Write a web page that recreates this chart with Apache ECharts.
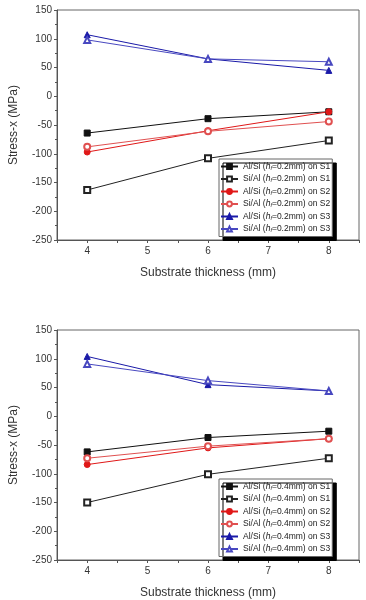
<!DOCTYPE html>
<html>
<head>
<meta charset="utf-8">
<script src="https://cdn.jsdelivr.net/npm/echarts@6/dist/echarts.min.js"></script>
<style>
  html, body { margin: 0; padding: 0; background: #fff; }
  #chart { width: 366px; height: 600px; }
</style>
</head>
<body>
<div id="chart"></div>
<script>
// substrate thickness (mm)
var thickness = [4, 6, 8];
var yTicks = [-250, -200, -150, -100, -50, 0, 50, 100, 150];

// hf = 0.2 mm (upper plot)
var alSiS1_02 = [-64, -39, -27];
var siAlS1_02 = [-163, -108, -77];
var alSiS2_02 = [-97, -60, -27];
var siAlS2_02 = [-88, -61, -44];
var alSiS3_02 = [107, 65, 45];
var siAlS3_02 = [98, 65, 60];

// hf = 0.4 mm (lower plot)
var alSiS1_04 = [-62, -37, -26];
var siAlS1_04 = [-150, -101, -73];
var alSiS2_04 = [-84, -55, -39];
var siAlS2_04 = [-73, -52, -39];
var alSiS3_04 = [104, 55, 44];
var siAlS3_04 = [91, 62, 44];

var font = 'Liberation Sans, Arial, sans-serif';

// 每条曲线的样式
var styles = [
    { pre: 'Al/Si', sub: 'S1', symbol: 'rect', color: '#111' },
    { pre: 'Si/Al', sub: 'S1', symbol: 'emptyRect', color: '#222' },
    { pre: 'Al/Si', sub: 'S2', symbol: 'circle', color: '#e01818' },
    { pre: 'Si/Al', sub: 'S2', symbol: 'emptyCircle', color: '#e05050' },
    { pre: 'Al/Si', sub: 'S3', symbol: 'triangle', color: '#1a1aa8' },
    { pre: 'Si/Al', sub: 'S3', symbol: 'emptyTriangle', color: '#4848c0' }
];

function makeName(st, hf) {
    return st.pre + ' (hf=' + hf + 'mm) on ' + st.sub;
}

function pairs(vals) {
    return thickness.map(function (x, i) { return [x, vals[i]]; });
}

function axisPair(idx) {
    var x = {
        type: 'value', gridIndex: idx, min: 3.5, max: 8.5, interval: 0.5,
        name: 'Substrate thickness (mm)', nameLocation: 'middle', nameGap: 27,
        nameTextStyle: { fontFamily: font, fontSize: 12, color: '#333' },
        axisLine: { onZero: false, lineStyle: { color: '#555' } },
        axisTick: { length: 3, lineStyle: { color: '#555' } },
        axisLabel: {
            fontFamily: font, fontSize: 10, color: '#333', margin: 6,
            formatter: function (v) { return v % 1 === 0 ? String(v) : ''; }
        },
        splitLine: { show: false }
    };
    var y = {
        type: 'value', gridIndex: idx, min: yTicks[0], max: yTicks[yTicks.length - 1], interval: 50,
        name: 'Stress-x (MPa)', nameLocation: 'middle', nameGap: 37,
        nameTextStyle: { fontFamily: font, fontSize: 12, color: '#333' },
        axisLine: { show: true, onZero: false, lineStyle: { color: '#555' } },
        axisTick: { show: true, length: 3, lineStyle: { color: '#555' } },
        minorTick: { show: true, splitNumber: 2, length: 2, lineStyle: { color: '#555' } },
        axisLabel: { fontFamily: font, fontSize: 10, color: '#333', margin: 5 },
        splitLine: { show: false }
    };
    return [x, y];
}

var groups = [
    { hf: '0.2', data: [alSiS1_02, siAlS1_02, alSiS2_02, siAlS2_02, alSiS3_02, siAlS3_02] },
    { hf: '0.4', data: [alSiS1_04, siAlS1_04, alSiS2_04, siAlS2_04, alSiS3_04, siAlS3_04] }
];
var gridTops = [10, 330];

var grids = [], xAxes = [], yAxes = [], series = [], legends = [];
groups.forEach(function (g, gi) {
    grids.push({
        left: 47, top: gridTops[gi], width: 312, height: 230,
        show: true, borderColor: '#666', borderWidth: 1, backgroundColor: '#fff'
    });
    var ax = axisPair(gi);
    xAxes.push(ax[0]);
    yAxes.push(ax[1]);
    var names = [];
    styles.forEach(function (st, si) {
        var nm = makeName(st, g.hf);
        names.push(nm);
        series.push({
            name: nm, type: 'line', xAxisIndex: gi, yAxisIndex: gi,
            data: pairs(g.data[si]),
            symbol: st.symbol, symbolSize: 6,
            lineStyle: { color: st.color, width: 1 },
            itemStyle: { color: st.color, borderColor: st.color, borderWidth: 1 },
            z: 3
        });
    });
    legends.push({
        data: names, orient: 'vertical',
        left: 219, top: gridTops[gi] + 149,
        itemWidth: 17, itemHeight: 6, itemGap: 3.5,
        padding: [3, 2, 3, 1],
        backgroundColor: '#fff', borderColor: '#666', borderWidth: 1,
        shadowColor: '#000', shadowOffsetX: 4, shadowOffsetY: 4, shadowBlur: 0,
        selectedMode: false,
        formatter: function (name) {
            var m = name.match(/^(\S+) \(hf=([\d.]+)mm\) on (S\d)$/);
            return '{n|' + m[1] + ' (}{i|h}{s|f}{n|=' + m[2] + 'mm) on ' + m[3] + '}';
        },
        textStyle: {
            fontFamily: font, fontSize: 8.5, color: '#222',
            rich: {
                n: { fontFamily: font, fontSize: 8.5, color: '#222' },
                i: { fontFamily: font, fontSize: 8.5, fontStyle: 'italic', color: '#222' },
                s: { fontFamily: font, fontSize: 5.5, fontStyle: 'italic', color: '#222', verticalAlign: 'bottom', padding: [3, 0, 0, 0] }
            }
        }
    });
});

var myChart = echarts.init(document.getElementById('chart'));
myChart.setOption({
    backgroundColor: '#fff',
    animation: false,
    grid: grids,
    xAxis: xAxes,
    yAxis: yAxes,
    legend: legends,
    series: series
});
</script>
</body>
</html>
